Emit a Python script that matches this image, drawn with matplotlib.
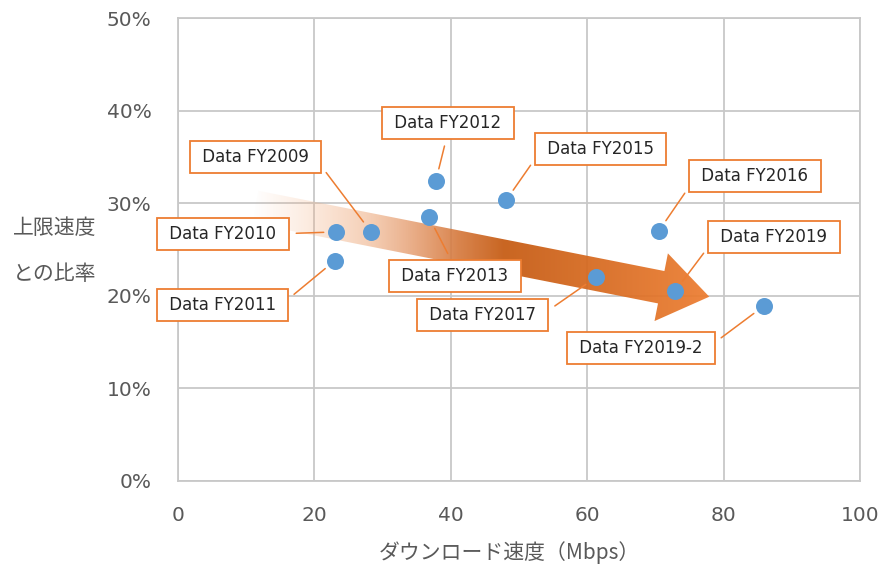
import numpy as np
import matplotlib.pyplot as plt
from matplotlib.patches import Polygon
from matplotlib.colors import LinearSegmentedColormap, to_rgba
from matplotlib.ticker import PercentFormatter

plt.rcParams['font.family'] = ['DejaVu Sans', 'Noto Sans CJK JP']

# data
labels = ['Data FY2009', 'Data FY2010', 'Data FY2011', 'Data FY2012', 'Data FY2013',
          'Data FY2015', 'Data FY2016', 'Data FY2017', 'Data FY2019', 'Data FY2019-2']
speed = [28.3, 23.2, 23.0, 37.8, 36.8, 48.1, 70.5, 61.3, 72.9, 85.9]
ratio = [0.269, 0.269, 0.238, 0.324, 0.285, 0.303, 0.270, 0.220, 0.205, 0.189]

x_ticks = [0, 20, 40, 60, 80, 100]
y_ticks = [0, 0.1, 0.2, 0.3, 0.4, 0.5]

# label box placement (data coords) and which edge the leader line leaves from
label_pos = [(11.4, 0.350), (6.6, 0.267), (6.5, 0.190), (39.6, 0.387), (40.6, 0.221),
             (62.0, 0.359), (84.6, 0.329), (44.7, 0.179), (87.4, 0.263), (67.9, 0.144)]
label_rel = [(1, 0.5), (1, 0.5), (1, 0.5), (0.5, 0), (0.5, 1),
             (0, 0.5), (0, 0.5), (1, 0.5), (0, 0.5), (1, 0.5)]

ORANGE = '#ED7D31'
GRID = '#C8C8C8'
TXT = '#595959'
JP = ['Noto Sans CJK JP', 'DejaVu Sans']

fig = plt.figure(figsize=(8.79, 5.67), dpi=100)
ax = fig.add_axes([178 / 879, 86 / 567, 682 / 879, 463 / 567])
ax.set_xlim(0, 100)
ax.set_ylim(0, 0.5)
ax.set_xticks(x_ticks)
ax.set_yticks(y_ticks)
ax.yaxis.set_major_formatter(PercentFormatter(1.0, decimals=0))
ax.tick_params(length=0, colors=TXT, labelsize=14.5)
ax.tick_params(axis='x', pad=18)
ax.tick_params(axis='y', pad=19)
ax.grid(True, color=GRID, lw=1.3, zorder=0)
ax.set_axisbelow(True)
for s in ax.spines.values():
    s.set_color(GRID)
    s.set_linewidth(1.3)

# big gradient arrow showing the trend
tail = ax.transData.transform((11.3, 0.296))
tip = ax.transData.transform((77.9, 0.199))
d = tip - tail
u = d / np.hypot(*d)
n = np.array([-u[1], u[0]])
shaft_w, head_w, head_l = 33, 69, 49
base = tip - u * head_l
pts = [tail + n * shaft_w / 2, base + n * shaft_w / 2, base + n * head_w / 2, tip,
       base - n * head_w / 2, base - n * shaft_w / 2, tail - n * shaft_w / 2]
pts_data = ax.transData.inverted().transform(pts)
poly = Polygon(pts_data, closed=True, facecolor='none', edgecolor='none')
ax.add_patch(poly)

cmap = LinearSegmentedColormap.from_list('arrow', [
    (0.0, to_rgba('#F4B183', 0.0)),
    (0.12, to_rgba('#F4B183', 0.25)),
    (0.25, to_rgba('#EDAA7E', 0.55)),
    (0.36, to_rgba('#E29463', 0.8)),
    (0.45, to_rgba('#D5773A', 0.9)),
    (0.55, to_rgba('#C55A11', 0.93)),
    (1.0, to_rgba('#ED7D31', 0.93)),
])
grad = np.linspace(0, 1, 256).reshape(1, -1)
im = ax.imshow(grad, cmap=cmap, aspect='auto', zorder=1.5, interpolation='bilinear',
               extent=[pts_data[:, 0].min(), pts_data[:, 0].max(),
                       pts_data[:, 1].min(), pts_data[:, 1].max()])
im.set_clip_path(poly)
ax.set_xlim(0, 100)
ax.set_ylim(0, 0.5)

ax.scatter(speed, ratio, s=150, color='#5B9BD5', zorder=3, linewidths=0)

for lab, x, y, (tx, ty), rel in zip(labels, speed, ratio, label_pos, label_rel):
    ax.annotate(' ' + lab + ' ', xy=(x, y), xytext=(tx, ty), ha='center', va='center',
                fontsize=12, color='#262626', zorder=4,
                bbox=dict(boxstyle='square,pad=0.42', fc='white', ec=ORANGE, lw=1.3),
                arrowprops=dict(arrowstyle='-', color=ORANGE, lw=1.1,
                                shrinkA=5, shrinkB=9, relpos=rel))

fig.text(55 / 879, 1 - 251 / 567, '上限速度\nとの比率', ha='center', va='center',
         fontsize=15, color=TXT, linespacing=2.4, family=JP)
fig.text(509 / 879, 1 - 553 / 567, 'ダウンロード速度（Mbps）', ha='center', va='center',
         fontsize=15, color=TXT, family=JP)

fig.savefig('out.png', dpi=100)
